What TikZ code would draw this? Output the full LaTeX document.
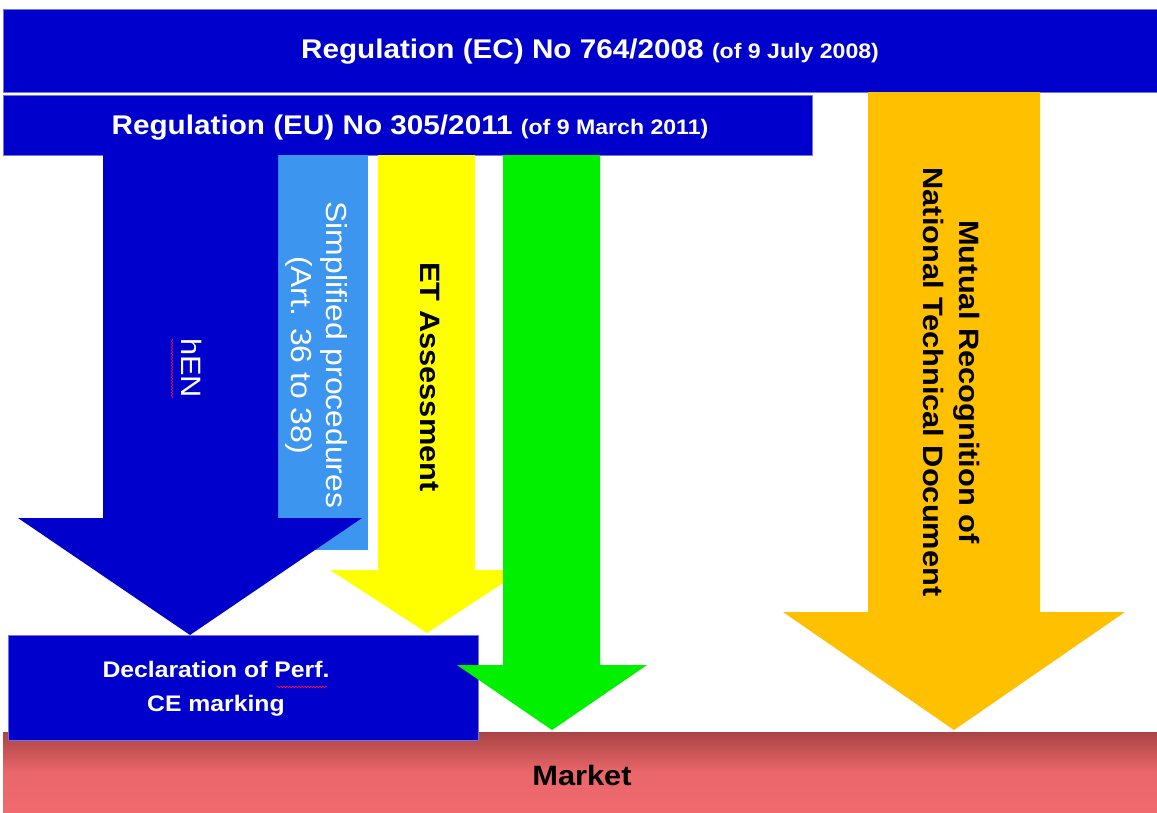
\documentclass[tikz,border=0pt]{standalone}
\usepackage{fontspec}
\setmainfont{Liberation Sans}
\usetikzlibrary{decorations.pathmorphing}
\definecolor{regblue}{RGB}{0,0,204}
\definecolor{simpblue}{RGB}{60,150,240}
\definecolor{etyellow}{RGB}{255,255,0}
\definecolor{mrgreen}{RGB}{0,240,0}
\definecolor{mrorange}{RGB}{255,192,0}
\definecolor{mktdark}{RGB}{170,68,68}
\definecolor{mktlight}{RGB}{240,106,110}
\newcommand{\bigf}{\fontsize{27}{32}\selectfont}
\newcommand{\smf}{\fontsize{21}{25}\selectfont}
\newcommand{\midf}{\fontsize{28}{36}\selectfont}
\begin{document}
\begin{tikzpicture}[x=1pt, y=-1pt, line join=round,
    bar/.style={fill=regblue, draw=regblue!55!white, line width=1pt},
    wtxt/.style={text=white, font=\bfseries\bigf, align=center, xscale=1.1},
    btxt/.style={text=black, font=\bfseries\midf, align=center},
    vtxt/.style={rotate=-90, xscale=1.1, align=center},
    squig/.style={draw=red!75!magenta, line width=0.7pt, decorate,
        decoration={snake, amplitude=0.7pt, segment length=3pt}}]
    \useasboundingbox (0,0) rectangle (1157,812); % page size in px
    \fill[white] (0,0) rectangle (1157,812);
    % market at the bottom
    \shade[top color=mktdark, bottom color=mktlight, middle color=mktlight!90!mktdark] (3,732) rectangle (1157,812);
    \node[btxt, xscale=1.1] (mkt) at (582,775) {Market};
    % regulations
    \draw[bar] (3,9) rectangle (1157,92);
    \node[wtxt] (ec) at (590,52) {Regulation (EC) No 764/2008 {\smf(of 9 July 2008)}};
    \draw[bar] (3,95) rectangle (812,155);
    \node[wtxt] (eu) at (410,128) {Regulation (EU) No 305/2011 {\smf(of 9 March 2011)}};
    % routes
    \fill[simpblue] (278,155) rectangle (368,550);
    \fill[regblue] (103,155) -- (278,155) -- (278,518) -- (362,518) -- (190,635) -- (18,518) -- (103,518) -- cycle;
    \node[vtxt, text=white, font=\fontsize{28}{34}\selectfont] (hen) at (192,368) {hEN};
    \draw[squig] (172,339) -- (172,398);
    \node[vtxt, text=white, font=\fontsize{29}{35}\selectfont] (simp) at (317,355) {Simplified procedures\\(Art. 36 to 38)};
    \fill[etyellow] (378,155) -- (475,155) -- (475,570) -- (523,570) -- (427,633) -- (330,570) -- (378,570) -- cycle;
    \node[vtxt, btxt] (et) at (430,377) {ET Assessment};
    % declaration
    \draw[bar] (8,635) rectangle (478,740);
    \node[wtxt, font=\bfseries\fontsize{22.5}{34}\selectfont] (dop) at (216,689) {Declaration of Perf.\\CE marking};
    \draw[squig] (277,687) -- (327,687);
    \fill[mrgreen] (503,155) -- (600,155) -- (600,665) -- (647,665) -- (552,730) -- (457,665) -- (503,665) -- cycle;
    \fill[mrorange] (868,92) -- (1040,92) -- (1040,612) -- (1125,612) -- (954,730) -- (783,612) -- (868,612) -- cycle;
    \node[vtxt, btxt] (mr) at (951,382) {Mutual Recognition of\\National Technical Document};
\end{tikzpicture}
\end{document}
